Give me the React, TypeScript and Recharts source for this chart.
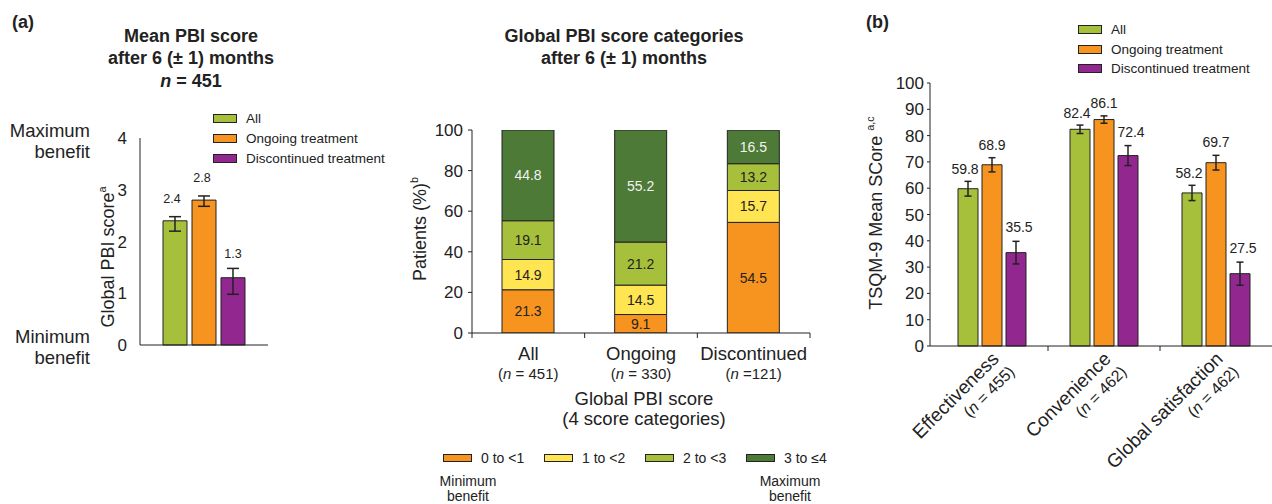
import React from "react";
import {
    Bar,
    BarChart,
    ErrorBar,
    LabelList,
    Legend,
    XAxis,
    YAxis,
} from "recharts";

const FONT = '"Liberation Sans", Arial, Helvetica, sans-serif';
const INK = "#222";
const GREEN = "#a6c03c";
const ORANGE = "#f7941f";
const PURPLE = "#92278f";
const YELLOW = "#ffe552";
const DARK_GREEN = "#4d7a36";

// (a) left: mean global PBI score
const groupNames = ["All", "Ongoing treatment", "Discontinued treatment"];
const meanScore = [2.4, 2.8, 1.3];
const meanErrLow = [0.2, 0.12, 0.32];
const meanErrHigh = [0.08, 0.08, 0.18];

// (a) right: PBI score categories, % of patients
const pbiGroups = ["All", "Ongoing", "Discontinued"];
const pbiN = ["= 451", "= 330", "=121"];
const categoryNames = ["0 to <1", "1 to <2", "2 to <3", "3 to \u22644"];
const cat0 = [21.3, 9.1, 54.5];
const cat1 = [14.9, 14.5, 15.7];
const cat2 = [19.1, 21.2, 13.2];
const cat3 = [44.8, 55.2, 16.5];

// (b) TSQM-9 mean scores
const domains = ["Effectiveness", "Convenience", "Global satisfaction"];
const domainN = ["455", "462", "462"];
const tsqmAll = [59.8, 82.4, 58.2];
const tsqmOngoing = [68.9, 86.1, 69.7];
const tsqmDisc = [35.5, 72.4, 27.5];
const tsqmAllErr = [2.8, 1.6, 2.9];
const tsqmOngoingErr = [2.7, 1.4, 2.8];
const tsqmDiscErr = [4.3, 3.8, 4.4];

const meanData = [
    {
        name: "",
        all: meanScore[0],
        ongoing: meanScore[1],
        disc: meanScore[2],
        allErr: [meanErrLow[0], meanErrHigh[0]],
        ongoingErr: [meanErrLow[1], meanErrHigh[1]],
        discErr: [meanErrLow[2], meanErrHigh[2]],
    },
];

const pbiData = pbiGroups.map((g, i) => ({
    name: g,
    n: pbiN[i],
    c0: cat0[i],
    c1: cat1[i],
    c2: cat2[i],
    c3: cat3[i],
}));

const tsqmData = domains.map((d, i) => ({
    name: d,
    n: domainN[i],
    all: tsqmAll[i],
    ongoing: tsqmOngoing[i],
    disc: tsqmDisc[i],
    allErr: tsqmAllErr[i],
    ongoingErr: tsqmOngoingErr[i],
    discErr: tsqmDiscErr[i],
}));

// rotated axis title with a superscript
const YTitle = ({ posX, posY, text, sup, size }: any) => (
    <text
        x={posX}
        y={posY}
        transform={`rotate(-90 ${posX} ${posY})`}
        textAnchor="middle"
        fontSize={size}
        fill={INK}
    >
        {text}
        <tspan fontSize={size * 0.6} dy={-size * 0.45}>{sup}</tspan>
    </text>
);

const XTitle = ({ posX, posY }: any) => (
    <text x={posX} y={posY} textAnchor="middle" fontSize={18.5} fill={INK}>
        <tspan x={posX}>Global PBI score</tspan>
        <tspan x={posX} dy={20}>(4 score categories)</tspan>
    </text>
);

// label above the error bar: bar top minus error in pixels
const errLabel = (errs: number[], gap: number, size: number, dx = 0) =>
    (props: any) => {
        const { x, y, width, height, value, index } = props;
        const px = height / value;
        const top = y - errs[index] * px;
        return (
            <text
                x={x + width / 2 + dx}
                y={top - gap}
                textAnchor="middle"
                fontSize={size}
                fill={INK}
            >
                {value}
            </text>
        );
    };

const legendList = (order: string[], rowH: number, swW: number, swH: number, size: number, horizontal = false, itemW = 0) =>
    (props: any) => {
        const items = [...(props.payload || [])].sort(
            (a: any, b: any) => order.indexOf(a.value) - order.indexOf(b.value)
        );
        return (
            <div style={{ display: "flex", flexDirection: horizontal ? "row" : "column", fontFamily: FONT }}>
                {items.map((p: any) => (
                    <div
                        key={p.value}
                        style={{
                            display: "flex",
                            alignItems: "center",
                            height: rowH,
                            width: horizontal ? itemW : undefined,
                        }}
                    >
                        <span
                            style={{
                                display: "inline-block",
                                width: swW,
                                height: swH,
                                background: p.color,
                                border: `1px solid ${INK}`,
                                boxSizing: "border-box",
                                marginRight: 9,
                            }}
                        />
                        <span style={{ fontSize: size, color: INK, whiteSpace: "nowrap" }}>{p.value}</span>
                    </div>
                ))}
            </div>
        );
    };

const PBI_BAND = 338 / 3;
const PbiTick = (props: any) => {
    const { x, y, payload, index } = props;
    const n = pbiData[index]?.n;
    return (
        <g>
            <line x1={x - PBI_BAND / 2} x2={x - PBI_BAND / 2} y1={y} y2={y + 5} stroke={INK} />
            {index === pbiData.length - 1 && (
                <line x1={x + PBI_BAND / 2} x2={x + PBI_BAND / 2} y1={y} y2={y + 5} stroke={INK} />
            )}
            <text x={x} y={y + 27} textAnchor="middle" fontSize={18.5} fill={INK}>{payload.value}</text>
            <text x={x} y={y + 46} textAnchor="middle" fontSize={15} fill={INK}>
                (<tspan fontStyle="italic">n</tspan> {n})
            </text>
        </g>
    );
};

const TSQM_BAND = 112;
const TsqmTick = (props: any) => {
    const { x, y, payload, index } = props;
    const n = tsqmData[index]?.n;
    const ax = x + 8;
    const ay = y + 14;
    return (
        <g>
            {index > 0 && (
                <line x1={x - TSQM_BAND / 2} x2={x - TSQM_BAND / 2} y1={y} y2={y + 5} stroke={INK} />
            )}
            <text x={ax} y={ay} transform={`rotate(-45 ${ax} ${ay})`} textAnchor="end" fontSize={19} fill={INK}>
                <tspan x={ax}>{payload.value}</tspan>
                <tspan x={ax + 2} dy={20} fontSize={16}>
                    (<tspan fontStyle="italic">n</tspan> = {n})
                </tspan>
            </text>
        </g>
    );
};

const axisTick = { fill: INK, fontSize: 17 };

export default function App() {
    return (
        <div
            style={{
                position: "absolute",
                left: 0,
                top: 0,
                width: 1272,
                height: 504,
                background: "#fff",
                fontFamily: FONT,
                color: INK,
            }}
        >
            {/* mean PBI score */}
            <div style={{ position: "absolute", left: 0, top: 0 }}>
                <BarChart
                    width={400}
                    height={380}
                    data={meanData}
                    margin={{ top: 138, right: 132, left: 100, bottom: 34 }}
                    barSize={24}
                    barGap={5}
                >
                    <XAxis dataKey="name" tick={false} tickLine={false} height={1} stroke={INK} />
                    <YAxis
                        domain={[0, 4]}
                        ticks={[0, 1, 2, 3, 4]}
                        tickLine={false}
                        tick={axisTick}
                        tickMargin={7}
                        width={40}
                        stroke={INK}
                        label={<YTitle posX={114} posY={257} text="Global PBI score" sup="a" size={18} />}
                    />
                    <Legend
                        layout="vertical"
                        align="center"
                        verticalAlign="middle"
                        wrapperStyle={{ left: 213, top: 108, width: 190 }}
                        content={legendList(groupNames, 20, 24, 9, 13.5)}
                    />
                    <Bar dataKey="all" name={groupNames[0]} fill={GREEN} stroke={INK} isAnimationActive={false}>
                        <ErrorBar dataKey="allErr" width={6} stroke={INK} strokeWidth={1.5} />
                        <LabelList dataKey="all" content={errLabel([meanErrHigh[0]], 14, 12.5, -3)} />
                    </Bar>
                    <Bar dataKey="ongoing" name={groupNames[1]} fill={ORANGE} stroke={INK} isAnimationActive={false}>
                        <ErrorBar dataKey="ongoingErr" width={6} stroke={INK} strokeWidth={1.5} />
                        <LabelList dataKey="ongoing" content={errLabel([meanErrHigh[1]], 14, 12.5, -2)} />
                    </Bar>
                    <Bar dataKey="disc" name={groupNames[2]} fill={PURPLE} stroke={INK} isAnimationActive={false}>
                        <ErrorBar dataKey="discErr" width={6} stroke={INK} strokeWidth={1.5} />
                        <LabelList dataKey="disc" content={errLabel([meanErrHigh[2]], 10, 12.5)} />
                    </Bar>
                </BarChart>
            </div>

            {/* PBI score categories */}
            <div style={{ position: "absolute", left: 380, top: 0 }}>
                <BarChart
                    width={470}
                    height={504}
                    data={pbiData}
                    margin={{ top: 130, right: 40, left: 42, bottom: 121 }}
                    barSize={52}
                >
                    <XAxis
                        dataKey="name"
                        tickLine={false}
                        tickSize={0}
                        tickMargin={0}
                        height={50}
                        stroke={INK}
                        tick={<PbiTick />}
                        interval={0}
                        label={<XTitle posX={264} posY={405} />}
                    />
                    <YAxis
                        domain={[0, 100]}
                        ticks={[0, 20, 40, 60, 80, 100]}
                        allowDataOverflow
                        tickSize={4}
                        tickMargin={5}
                        tick={axisTick}
                        width={50}
                        stroke={INK}
                        label={<YTitle posX={46} posY={229} text="Patients (%)" sup="b" size={18} />}
                    />
                    <Legend
                        layout="vertical"
                        align="center"
                        verticalAlign="middle"
                        wrapperStyle={{ left: 63, top: 450, width: 420 }}
                        content={legendList(categoryNames, 16, 29, 8, 14, true, 101)}
                    />
                    <Bar dataKey="c0" name={categoryNames[0]} stackId="p" fill={ORANGE} stroke={INK} isAnimationActive={false}>
                        <LabelList dataKey="c0" position="center" fontSize={14} fill={INK} />
                    </Bar>
                    <Bar dataKey="c1" name={categoryNames[1]} stackId="p" fill={YELLOW} stroke={INK} isAnimationActive={false}>
                        <LabelList dataKey="c1" position="center" fontSize={14} fill={INK} />
                    </Bar>
                    <Bar dataKey="c2" name={categoryNames[2]} stackId="p" fill={GREEN} stroke={INK} isAnimationActive={false}>
                        <LabelList dataKey="c2" position="center" fontSize={14} fill={INK} />
                    </Bar>
                    <Bar dataKey="c3" name={categoryNames[3]} stackId="p" fill={DARK_GREEN} stroke={INK} isAnimationActive={false}>
                        <LabelList dataKey="c3" position="center" fontSize={14} fill="#f2f2f2" />
                    </Bar>
                </BarChart>
            </div>

            {/* TSQM-9 */}
            <div style={{ position: "absolute", left: 850, top: 0 }}>
                <BarChart
                    width={422}
                    height={504}
                    data={tsqmData}
                    margin={{ top: 83, right: 0, left: 30, bottom: 58 }}
                    barSize={20}
                    barGap={4}
                >
                    <XAxis
                        dataKey="name"
                        tickLine={false}
                        tickSize={0}
                        tickMargin={0}
                        height={100}
                        stroke={INK}
                        tick={<TsqmTick />}
                        interval={0}
                        padding={{ left: 6, right: 0 }}
                    />
                    <YAxis
                        domain={[0, 100]}
                        ticks={[0, 10, 20, 30, 40, 50, 60, 70, 80, 90, 100]}
                        tickSize={3}
                        tickMargin={3}
                        tick={axisTick}
                        width={50}
                        stroke={INK}
                        label={<YTitle posX={32} posY={213} text="TSQM-9 Mean SCore " sup="a,c" size={18} />}
                    />
                    <Legend
                        layout="vertical"
                        align="center"
                        verticalAlign="middle"
                        wrapperStyle={{ left: 228, top: 20, width: 190 }}
                        content={legendList(groupNames, 19.5, 24, 9, 13.5)}
                    />
                    <Bar dataKey="all" name={groupNames[0]} fill={GREEN} stroke={INK} isAnimationActive={false}>
                        <ErrorBar dataKey="allErr" width={3.5} stroke={INK} strokeWidth={1.5} />
                        <LabelList dataKey="all" content={errLabel(tsqmAllErr, 7, 14, -3)} />
                    </Bar>
                    <Bar dataKey="ongoing" name={groupNames[1]} fill={ORANGE} stroke={INK} isAnimationActive={false}>
                        <ErrorBar dataKey="ongoingErr" width={3.5} stroke={INK} strokeWidth={1.5} />
                        <LabelList dataKey="ongoing" content={errLabel(tsqmOngoingErr, 8, 14)} />
                    </Bar>
                    <Bar dataKey="disc" name={groupNames[2]} fill={PURPLE} stroke={INK} isAnimationActive={false}>
                        <ErrorBar dataKey="discErr" width={3.5} stroke={INK} strokeWidth={1.5} />
                        <LabelList dataKey="disc" content={errLabel(tsqmDiscErr, 9, 14, 3)} />
                    </Bar>
                </BarChart>
            </div>

            {/* titles and side notes */}
            <svg
                width={1272}
                height={504}
                style={{ position: "absolute", left: 0, top: 0, pointerEvents: "none" }}
                fontFamily={FONT}
                fill={INK}
            >
                <text x={12} y={28} fontSize={18} fontWeight="bold">(a)</text>
                <text x={866} y={28} fontSize={18} fontWeight="bold">(b)</text>

                <g fontSize={18} fontWeight="bold" textAnchor="middle">
                    <text x={191} y={42}>Mean PBI score</text>
                    <text x={191} y={64}>after 6 (± 1) months</text>
                    <text x={191} y={87}>
                        <tspan fontStyle="italic">n</tspan> = 451
                    </text>
                    <text x={624} y={42}>Global PBI score categories</text>
                    <text x={624} y={64}>after 6 (± 1) months</text>
                </g>

                <g fontSize={18.5} textAnchor="end">
                    <text x={90} y={137}>Maximum</text>
                    <text x={90} y={158}>benefit</text>
                    <text x={90} y={343}>Minimum</text>
                    <text x={90} y={364}>benefit</text>
                </g>

                <g fontSize={14} textAnchor="middle">
                    <text x={468} y={486}>Minimum</text>
                    <text x={468} y={501}>benefit</text>
                    <text x={790} y={486}>Maximum</text>
                    <text x={790} y={501}>benefit</text>
                </g>
            </svg>
        </div>
    );
}
